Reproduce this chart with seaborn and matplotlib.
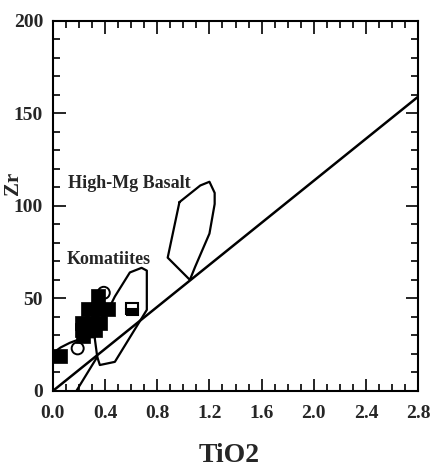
import matplotlib
matplotlib.use("Agg")
import matplotlib.pyplot as plt
from matplotlib.ticker import MultipleLocator
import pandas as pd
import seaborn as sns

# Sample analyses: TiO2 (wt%) vs Zr (ppm)
ti_solid = [0.345, 0.27, 0.345, 0.42, 0.22, 0.30, 0.36, 0.22, 0.32, 0.23, 0.054]
zr_solid = [51.4, 44.3, 44.3, 44.3, 36.8, 36.8, 36.8, 33.0, 33.0, 29.7, 19.0]
ti_open = [0.39, 0.19]
zr_open = [53.0, 23.0]
ti_half = [0.61]
zr_half = [44.3]

# Reference line through the origin
line_ti = [0.0, 2.8]
line_zr = [0.0, 159.0]

# Komatiite field outline
kom_ti = [0.32, 0.475, 0.59, 0.68, 0.72, 0.72, 0.475, 0.36, 0.34, 0.32]
kom_zr = [29.0, 51.0, 64.0, 66.5, 65.0, 43.8, 15.7, 14.0, 18.4, 29.0]
kom_tail_ti = [0.18, 0.34]
kom_tail_zr = [0.0, 18.4]
kom_arc_ti = [0.0, 0.06, 0.13, 0.20, 0.28, 0.32]
kom_arc_zr = [20.5, 23.5, 26.0, 27.8, 29.0, 29.0]

# High-Mg basalt field outline
hmb_ti = [0.97, 1.13, 1.20, 1.24, 1.24, 1.20, 1.09, 1.05, 0.88, 0.97]
hmb_zr = [102.0, 111.0, 113.0, 107.0, 101.0, 85.0, 67.0, 60.0, 72.0, 102.0]

x_ticks = [0.0, 0.4, 0.8, 1.2, 1.6, 2.0, 2.4, 2.8]
x_ticklabels = ["0.0", "0.4", "0.8", "1.2", "1.6", "2.0", "2.4", "2.8"]
y_ticks = [0, 50, 100, 150, 200]
y_ticklabels = ["0", "50", "100", "150", "200"]

sns.set_theme(style="ticks")
plt.rcParams["font.family"] = ["Liberation Serif", "DejaVu Serif"]
plt.rcParams["font.weight"] = "bold"

fig = plt.figure(figsize=(4.37, 4.71), dpi=100)
fig.patch.set_facecolor("white")
ax = fig.add_axes([0.121, 0.170, 0.836, 0.786])
ax.set_facecolor("white")

def outline(xs, ys, lw=1.6):
    df = pd.DataFrame({"x": xs, "y": ys})
    sns.lineplot(data=df, x="x", y="y", sort=False, estimator=None,
                 color="black", linewidth=lw, ax=ax)

outline(line_ti, line_zr, 1.8)
outline(kom_ti, kom_zr)
outline(kom_tail_ti, kom_tail_zr)
outline(kom_arc_ti, kom_arc_zr)
outline(hmb_ti, hmb_zr)

solid = pd.DataFrame({"TiO2": ti_solid, "Zr": zr_solid})
sns.scatterplot(data=solid, x="TiO2", y="Zr", marker="s", s=90,
                color="black", edgecolor="black", linewidth=0.5, ax=ax, zorder=3)
opn = pd.DataFrame({"TiO2": ti_open, "Zr": zr_open})
sns.scatterplot(data=opn, x="TiO2", y="Zr", marker="o", s=75,
                facecolor="none", edgecolor="black", linewidth=1.4, ax=ax, zorder=4)
ax.plot(ti_half, zr_half, linestyle="none", marker="s", markersize=9,
        fillstyle="bottom", markerfacecolor="black", markerfacecoloralt="white",
        markeredgecolor="black", markeredgewidth=1.5, zorder=4)

ax.text(0.115, 112, "High-Mg Basalt", fontsize=13, fontweight="bold",
        ha="left", va="center")
ax.text(0.107, 71, "Komatiites", fontsize=13, fontweight="bold",
        ha="left", va="center")

ax.set_xlim(0, 2.8)
ax.set_ylim(0, 200)
ax.set_xticks(x_ticks)
ax.set_xticklabels(x_ticklabels)
ax.set_yticks(y_ticks)
ax.set_yticklabels(y_ticklabels)
ax.xaxis.set_minor_locator(MultipleLocator(0.1))
ax.yaxis.set_minor_locator(MultipleLocator(10))
ax.tick_params(which="both", direction="in", top=True, right=True,
               color="black", width=1.2)
ax.tick_params(which="major", length=9)
ax.tick_params(which="minor", length=5)
ax.tick_params(axis="x", which="major", labelsize=14, pad=10)
ax.tick_params(axis="y", which="major", labelsize=14, pad=7)
for lab in ax.get_xticklabels() + ax.get_yticklabels():
    lab.set_fontweight("bold")
for sp in ax.spines.values():
    sp.set_color("black")
    sp.set_linewidth(1.5)

ax.set_xlabel("TiO2", fontsize=20, fontweight="bold")
ax.xaxis.set_label_coords(0.482, -0.14)
ax.set_ylabel("Zr", fontsize=15, fontweight="bold")
ax.yaxis.set_label_coords(-0.082, 0.56)

fig.savefig("out.png", dpi=100, facecolor="white")
